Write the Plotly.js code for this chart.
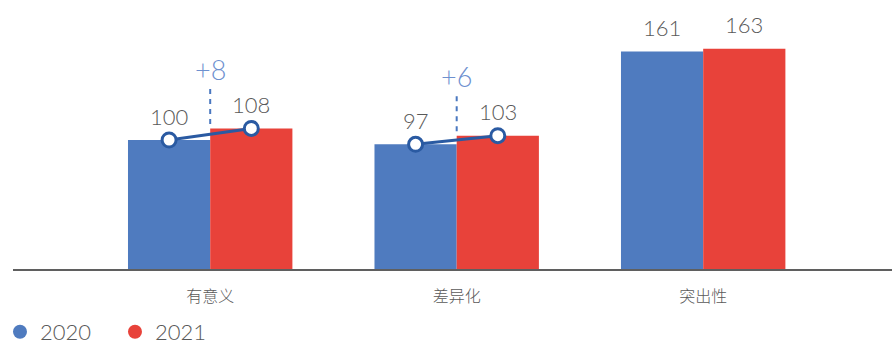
<!DOCTYPE html>
<html>
<head>
<meta charset="utf-8">
<script src="https://cdn.plot.ly/plotly-3.0.1.min.js"></script>
<style>html,body{margin:0;padding:0;background:#fff;}#chart{width:893px;height:349px;}</style>
</head>
<body>
<div id="chart"></div>
<script>
const categories = ['有意义', '差异化', '突出性'];
const values2020 = [100, 97, 161];
const values2021 = [108, 103, 163];
const seriesNames = ['2020', '2021'];
const diffLabels = ['+8', '+6', null];
const linkedIdx = [0, 1];

const BLUE = '#4F7BBF', RED = '#E8423A', LINE = '#2A5AA2', DIFF = '#6D90CF', GREY = '#595959';
const FONT = "Lato, 'Noto Sans CJK SC', sans-serif";
const CJK = "'Noto Sans CJK SC', sans-serif";
const bargap = 0.333;
const off = (1 - bargap) / 4;
const xs = categories.map((_, i) => i);

const traces = [
  {type:'bar', x:xs, y:values2020, name:seriesNames[0], marker:{color:BLUE}, showlegend:false, hoverinfo:'skip'},
  {type:'bar', x:xs, y:values2021, name:seriesNames[1], marker:{color:RED}, showlegend:false, hoverinfo:'skip'}
];
linkedIdx.forEach(i => {
  traces.push({type:'scatter', mode:'lines+markers', x:[i-off, i+off], y:[values2020[i], values2021[i]],
    line:{color:LINE, width:3}, marker:{symbol:'circle', size:14, color:'#fff', line:{color:LINE, width:3}},
    showlegend:false, hoverinfo:'skip', cliponaxis:false});
});
traces.push({type:'scatter', mode:'markers', x:[null], y:[null], name:seriesNames[0], marker:{symbol:'circle', size:14, color:BLUE}});
traces.push({type:'scatter', mode:'markers', x:[null], y:[null], name:seriesNames[1], marker:{symbol:'circle', size:14, color:RED}});

const annotations = [];
xs.forEach(i => {
  annotations.push({x:i-off, y:values2020[i], text:String(values2020[i]), showarrow:false, yanchor:'middle', yshift:24, font:{family:FONT, size:22, color:GREY, weight:300}});
  annotations.push({x:i+off, y:values2021[i], text:String(values2021[i]), showarrow:false, yanchor:'middle', yshift:24, font:{family:FONT, size:22, color:GREY, weight:300}});
});
const shapes = [];
linkedIdx.forEach(i => {
  annotations.push({x:i, y:values2021[i], text:diffLabels[i], showarrow:false, yanchor:'middle', yshift:59, font:{family:FONT, size:27, color:DIFF, weight:300}});
  shapes.push({type:'line', xref:'x', yref:'y', x0:i, x1:i, y0:values2021[i]+3, y1:values2021[i]+30, line:{color:'#4A78C0', width:2, dash:'5px,5px'}});
});

const layout = {
  width:893, height:349,
  margin:{l:13, r:1, t:0, b:80, autoexpand:false},
  paper_bgcolor:'#fff', plot_bgcolor:'#fff',
  barmode:'group', bargap:bargap, bargroupgap:0,
  font:{family:FONT, color:GREY},
  xaxis:{range:[-0.8, 2.766], tickvals:xs, ticktext:categories, showgrid:false, zeroline:false, automargin:false,
    showline:true, linecolor:'#5f5f5f', linewidth:2, ticks:'', ticklabelstandoff:12,
    tickfont:{family:CJK, size:16, color:GREY, weight:300}},
  yaxis:{range:[11, 196.6], visible:false, showgrid:false, zeroline:false, automargin:false},
  showlegend:true,
  legend:{orientation:'h', x:-0.0148, xanchor:'left', y:-0.3123, yanchor:'bottom',
    font:{family:FONT, size:22, color:GREY, weight:300}, entrywidth:70, itemclick:false},
  annotations:annotations, shapes:shapes
};
Plotly.newPlot('chart', traces, layout, {staticPlot:true, displayModeBar:false});
</script>
</body>
</html>
